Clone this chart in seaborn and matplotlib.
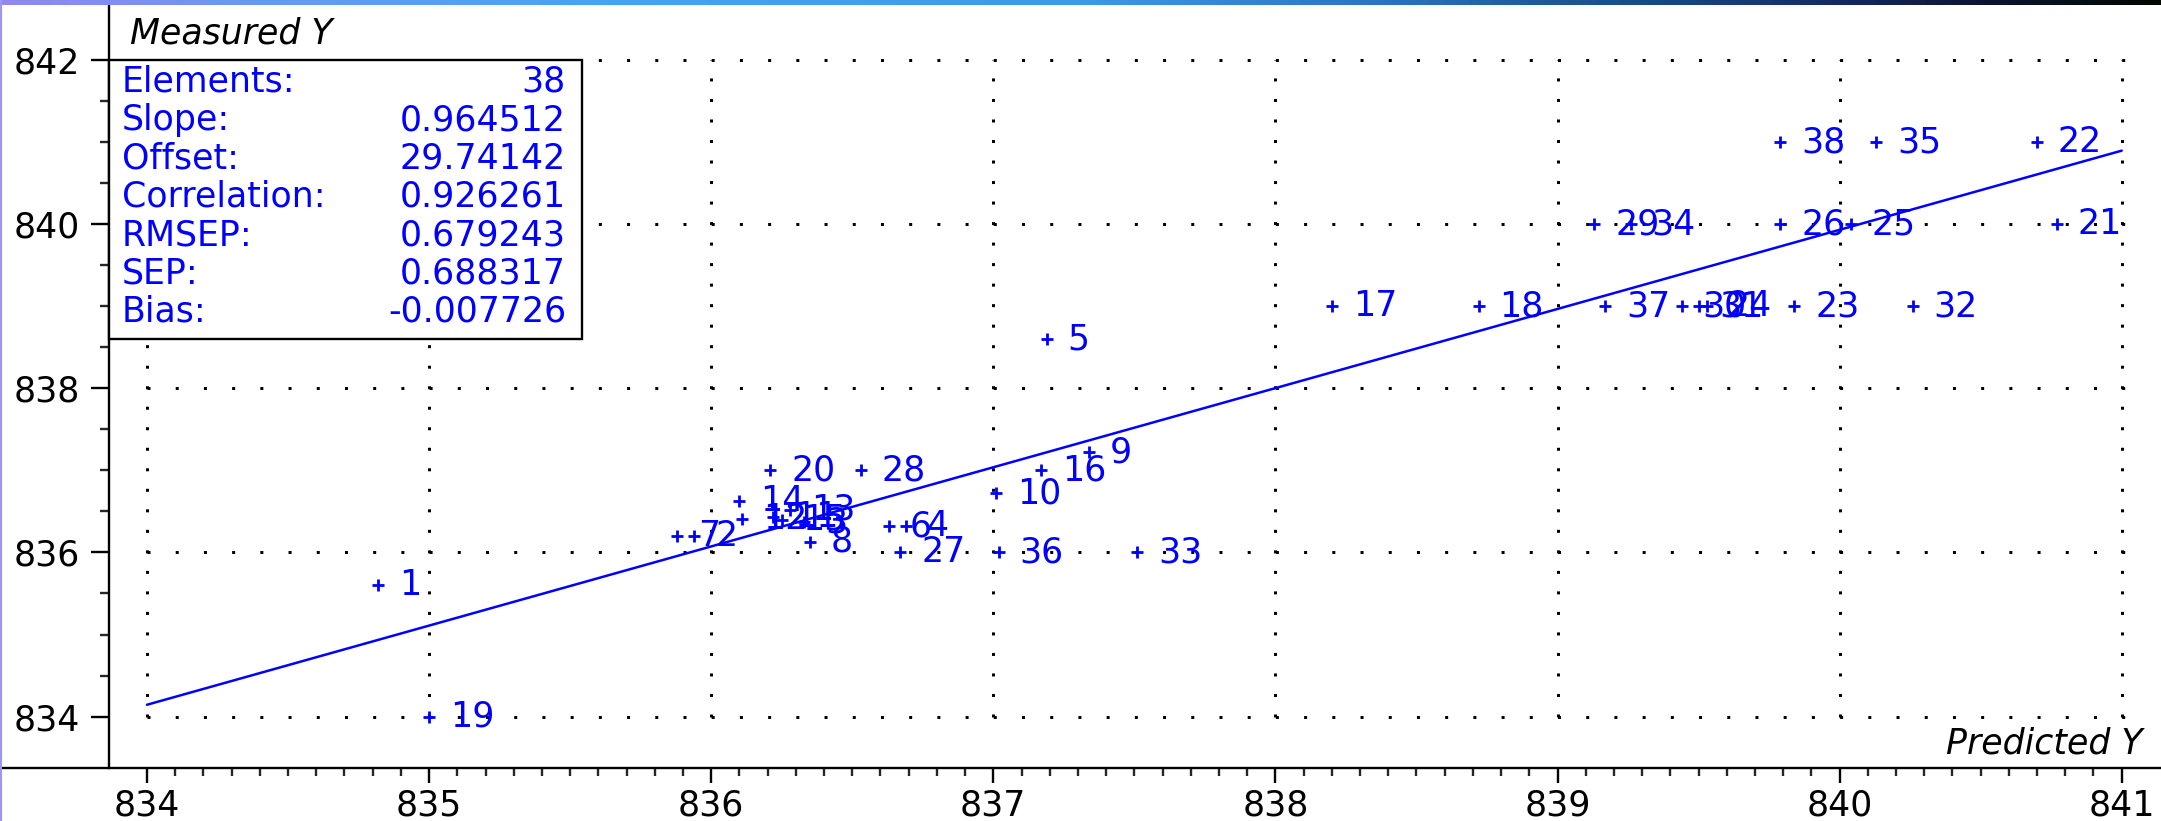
import numpy as np
import pandas as pd
import matplotlib
matplotlib.use("Agg")
import matplotlib.pyplot as plt
from matplotlib.lines import Line2D
from matplotlib.patches import Rectangle
from matplotlib.colors import LinearSegmentedColormap
from matplotlib.ticker import FixedLocator
import seaborn as sns

# ---- data -----------------------------------------------------------------
sample_ids = list(range(1, 39))
predicted = [834.82, 835.94, 836.33, 836.69, 837.19, 836.63, 835.88, 836.35,
             837.34, 837.01, 836.22, 836.11, 836.28, 836.10, 836.25, 837.17,
             838.20, 838.72, 835.00, 836.21, 840.77, 840.70, 839.84, 839.53,
             840.04, 839.79, 836.67, 836.53, 839.13, 839.44, 839.50, 840.26,
             837.51, 839.26, 840.13, 837.02, 839.17, 839.79]
measured = [835.60, 836.20, 836.37, 836.32, 838.60, 836.32, 836.20, 836.13,
            837.22, 836.72, 836.43, 836.41, 836.52, 836.63, 836.40, 837.00,
            839.00, 839.00, 834.00, 837.00, 840.00, 841.00, 839.00, 839.00,
            840.00, 840.00, 836.00, 837.00, 840.00, 839.00, 839.00, 839.00,
            836.00, 840.00, 841.00, 836.00, 839.00, 841.00]

stat_names = ["Elements:", "Slope:", "Offset:", "Correlation:", "RMSEP:", "SEP:", "Bias:"]
stat_values = ["38", "0.964512", "29.74142", "0.926261", "0.679243", "0.688317", "-0.007726"]
slope = 0.964512
offset = 29.74142
fit_range = np.array([834.0, 841.0])

x_ticks = [834, 835, 836, 837, 838, 839, 840, 841]
y_ticks = [834, 836, 838, 840, 842]

# ---- style ----------------------------------------------------------------
sns.set_style("white")
plt.rcParams["font.family"] = ["DejaVu Sans"]
plt.rcParams["lines.scale_dashes"] = False

W, H = 2161, 821
BLUE = "#0000ff"
FS = 25

fig = plt.figure(figsize=(W / 100, H / 100), dpi=100)


def fx(px):
    return px / W


def fy(py):
    return 1 - py / H


ax_left, ax_top, ax_bottom = 109, 5, 768
ax = fig.add_axes([fx(ax_left), fy(ax_bottom), 1 - fx(ax_left), fy(ax_top) - fy(ax_bottom)])

x0_px, xunit = 147.0, 282.1
y0_px, yunit = 716.6, 82.07
ax.set_xlim(834 - (x0_px - ax_left) / xunit, 834 + (W - x0_px) / xunit)
ax.set_ylim(834 - (ax_bottom - y0_px) / yunit, 834 + (y0_px - ax_top) / yunit)

# dotted grid, only across the labelled range
px_per_pt = 100 / 72
dot = 3 / px_per_pt
h_dash = (0, (dot, 0.1 * xunit / px_per_pt - dot))
v_dash = (0, (dot, 0.25 * yunit / px_per_pt - dot))
for gy in y_ticks:
    ax.plot([x_ticks[0], x_ticks[-1] + 0.01], [gy, gy], color="black",
            lw=dot, linestyle=h_dash, dash_capstyle="butt", zorder=1)
for gx in x_ticks:
    ax.plot([gx, gx], [y_ticks[0], y_ticks[-1]], color="black",
            lw=dot, linestyle=v_dash, dash_capstyle="butt", zorder=1)

# regression line from the stated slope and offset
fit_df = pd.DataFrame({"x": fit_range, "y": slope * fit_range + offset})
sns.lineplot(data=fit_df, x="x", y="y", ax=ax, color=BLUE, lw=1.8, zorder=3)

# samples
df = pd.DataFrame({"id": sample_ids, "predicted": predicted, "measured": measured})
sns.scatterplot(data=df, x="predicted", y="measured", ax=ax, marker="+",
                color=BLUE, s=75, linewidth=2.0, zorder=4)
for sid, px_, my in zip(df["id"], df["predicted"], df["measured"]):
    ax.annotate(str(sid), (px_, my), xytext=(15, 0), textcoords="offset points",
                ha="left", va="center", color=BLUE, fontsize=FS, zorder=5)

# axes, ticks
for side in ("top", "right", "bottom"):
    ax.spines[side].set_visible(False)
ax.spines["left"].set_linewidth(1.7)
ax.spines["left"].set_color("black")

ax.xaxis.set_major_locator(FixedLocator(x_ticks))
ax.xaxis.set_minor_locator(FixedLocator(np.round(np.arange(834, 841.001, 0.1), 2)))
ax.yaxis.set_major_locator(FixedLocator(y_ticks))
ax.yaxis.set_minor_locator(FixedLocator(np.arange(834, 842.001, 0.5)))
ax.set_xticklabels([str(t) for t in x_ticks])
ax.set_yticklabels([str(t) for t in y_ticks])
ax.tick_params(axis="x", which="major", direction="out", length=11, width=1.7,
               pad=4, labelsize=FS, colors="black", bottom=True)
ax.tick_params(axis="x", which="minor", direction="out", length=5.5, width=1.7,
               bottom=True)
ax.tick_params(axis="y", which="major", direction="out", length=13, width=1.7,
               pad=8, labelsize=FS, colors="black", left=True)
ax.tick_params(axis="y", which="minor", direction="out", length=6.5, width=1.7,
               left=True)
ax.set_xlabel("")
ax.set_ylabel("")

# x axis line across the whole width
fig.add_artist(Line2D([0, 1], [fy(ax_bottom), fy(ax_bottom)], transform=fig.transFigure,
                      color="black", lw=1.7, solid_capstyle="butt"))
# thin border on the left edge
fig.add_artist(Line2D([fx(1), fx(1)], [0, 1], transform=fig.transFigure,
                      color="#9a9ae8", lw=1.5))

# axis titles
fig.text(fx(130), fy(34), "Measured Y", ha="left", va="center", fontsize=FS,
         style="italic", color="black")
fig.text(fx(2143), fy(753), "Predicted Y", ha="right", va="baseline", fontsize=FS,
         style="italic", color="black")

# statistics box
box = Rectangle((fx(ax_left), fy(339)), fx(582) - fx(ax_left), fy(60) - fy(339),
                transform=fig.transFigure, facecolor="white", edgecolor="black",
                lw=1.7, zorder=6)
fig.add_artist(box)
for i, (name, val) in enumerate(zip(stat_names, stat_values)):
    yy = fy(82 + i * 38.3)
    fig.text(fx(122), yy, name, ha="left", va="center", color=BLUE, fontsize=FS, zorder=7)
    fig.text(fx(566), yy, val, ha="right", va="center", color=BLUE, fontsize=FS, zorder=7)

# title-bar gradient strip along the top edge
bar = fig.add_axes([0, fy(5), 1, 5 / H])
stops = [(0.0, "#9088f0"), (0.12, "#6a98f4"), (0.28, "#45a5f5"), (0.5, "#3c9ae8"),
         (0.65, "#2a70c0"), (0.72, "#1e5896"), (0.82, "#163670"), (0.92, "#0c1434"),
         (1.0, "#000800")]
cmap = LinearSegmentedColormap.from_list("titlebar", stops)
bar.imshow(np.linspace(0, 1, 512)[None, :], aspect="auto", cmap=cmap)
bar.set_axis_off()

fig.savefig("out.png", dpi=100)
